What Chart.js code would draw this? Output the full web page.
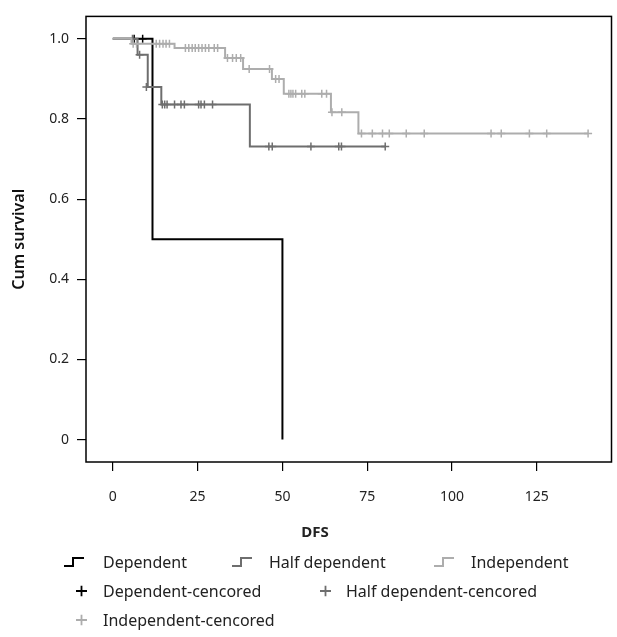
<!DOCTYPE html>
<html lang="en">
<head>
<meta charset="UTF-8">
<title>DFS survival</title>
<script src="https://cdn.jsdelivr.net/npm/chart.js"></script>
<style>
  body { margin: 0; background: #fff; }
  #wrap { position: relative; width: 617px; height: 637px; font-family: "Noto Sans", "Open Sans", sans-serif; color: #222; }
  #wrap canvas { position: absolute; left: 0; top: 0; }
  .lab { position: absolute; font-size: 16px; white-space: nowrap; transform: translateY(-50%); }
  .ico { position: absolute; transform: translateY(-50%); line-height: 0; }
  #dfs { position: absolute; left: 315px; top: 531px; transform: translate(-50%, -50%); font-weight: 700; font-size: 15px; }
</style>
</head>
<body>
<div id="wrap">
  <canvas id="km" width="617" height="637"></canvas>
  <div id="dfs">DFS</div>
  <div id="legend"></div>
</div>
<script>
// tick labels
const xTicks = [0, 25, 50, 75, 100, 125];
const yTicks = [0, 0.2, 0.4, 0.6, 0.8, 1.0];

// Dependent
const depTime = [0, 11.7, 50];
const depSurv = [1, 0.5, 0];
const depCensTime = [6.3, 8.8];
const depCensSurv = [1, 1];

// Half dependent
const halfTime = [0, 7.3, 10.3, 14.3, 40.4, 80.3];
const halfSurv = [1, 0.96, 0.88, 0.836, 0.7315, 0.7315];
const halfCensTime = [5.8, 7.9, 9.9, 14.6, 15.3, 16.0, 18.2, 20.1, 21.1, 25.3, 26.0, 27.0, 29.4,
                      46.0, 47.0, 58.4, 66.6, 67.4, 80.3];
const halfCensSurv = [1, 0.96, 0.88, 0.836, 0.836, 0.836, 0.836, 0.836, 0.836, 0.836, 0.836, 0.836, 0.836,
                      0.7315, 0.7315, 0.7315, 0.7315, 0.7315, 0.7315];

// Independent
const indTime = [0, 5.5, 18.2, 33.1, 38.4, 46.9, 50.4, 64.3, 72.4, 140.1];
const indSurv = [1, 0.988, 0.977, 0.952, 0.925, 0.90, 0.863, 0.817, 0.764, 0.764];
const indCensTime = [6.0, 7.0, 12.8, 13.8, 14.8, 15.7, 16.7,
                     21.4, 22.4, 23.4, 24.3, 25.3, 26.3, 27.3, 28.3, 29.9, 30.9,
                     33.8, 35.3, 36.4, 37.7,
                     40.2, 46.2,
                     48.0, 49.0,
                     51.9, 52.5, 53.1, 53.9, 55.7, 56.6, 61.6, 63.0,
                     64.6, 67.5,
                     73.3, 76.5, 79.5, 81.5, 86.5, 91.8, 111.5, 114.5, 122.8, 127.9, 140.1];
const indCensSurv = [0.988, 0.988, 0.988, 0.988, 0.988, 0.988, 0.988,
                     0.977, 0.977, 0.977, 0.977, 0.977, 0.977, 0.977, 0.977, 0.977, 0.977,
                     0.952, 0.952, 0.952, 0.952,
                     0.925, 0.925,
                     0.90, 0.90,
                     0.863, 0.863, 0.863, 0.863, 0.863, 0.863, 0.863, 0.863,
                     0.817, 0.817,
                     0.764, 0.764, 0.764, 0.764, 0.764, 0.764, 0.764, 0.764, 0.764, 0.764, 0.764];

const colDep = '#000000';
const colHalf = '#6e6e6e';
const colInd = '#adadad';

function pts(t, s) { return t.map((v, i) => ({ x: v, y: s[i] })); }

function stepSet(label, t, s, col) {
  return { type: 'line', label: label, data: pts(t, s), stepped: true, borderColor: col,
           borderWidth: 2, pointRadius: 0, fill: false };
}
function censSet(label, t, s, col) {
  return { type: 'scatter', label: label, data: pts(t, s), pointStyle: 'cross', pointRadius: 4,
           pointBorderWidth: 1.5, borderColor: col, backgroundColor: col };
}

const frame = {
  id: 'frame',
  afterDraw(chart) {
    const a = chart.chartArea, ctx = chart.ctx;
    ctx.save();
    ctx.strokeStyle = '#000';
    ctx.lineWidth = 1.5;
    ctx.strokeRect(a.left, a.top, a.right - a.left, a.bottom - a.top);
    ctx.restore();
  }
};

Chart.defaults.font.family = '"Noto Sans", "Open Sans", sans-serif';
Chart.defaults.color = '#222';

new Chart(document.getElementById('km'), {
  type: 'line',
  data: {
    datasets: [
      censSet('Independent-cencored', indCensTime, indCensSurv, colInd),
      stepSet('Independent', indTime, indSurv, colInd),
      censSet('Half dependent-cencored', halfCensTime, halfCensSurv, colHalf),
      stepSet('Half dependent', halfTime, halfSurv, colHalf),
      stepSet('Dependent', depTime, depSurv, colDep),
      censSet('Dependent-cencored', depCensTime, depCensSurv, colDep)
    ]
  },
  options: {
    responsive: false,
    animation: false,
    layout: { padding: { top: 9, right: 3, bottom: 135, left: 0 } },
    plugins: { legend: { display: false }, tooltip: { enabled: false } },
    scales: {
      x: {
        type: 'linear', min: -7.9, max: 147,
        afterBuildTicks(scale) { scale.ticks = xTicks.map(v => ({ value: v })); },
        afterFit(scale) { scale.height = 40; },
        ticks: { font: { size: 14 }, padding: 18, maxRotation: 0 },
        grid: { drawOnChartArea: false, drawTicks: true, tickLength: 9, color: '#000', lineWidth: 1.2 },
        border: { display: false }
      },
      y: {
        type: 'linear', min: -0.056, max: 1.056,
        afterBuildTicks(scale) { scale.ticks = yTicks.map(v => ({ value: v })); },
        afterFit(scale) { scale.width = 86; },
        ticks: { font: { size: 14 }, padding: 8, callback: v => v === 0 ? '0' : v.toFixed(1) },
        grid: { drawOnChartArea: false, drawTicks: true, tickLength: 9, color: '#000', lineWidth: 1.2 },
        border: { display: false },
        title: { display: true, text: 'Cum survival', font: { size: 16, weight: '600' }, color: '#111', padding: { top: 10 } }
      }
    }
  },
  plugins: [frame]
});

// legend (HTML symbols, drawn as small SVGs)
const legendItems = [
  { kind: 'step', col: colDep, text: 'Dependent', ix: 64, tx: 103, y: 562 },
  { kind: 'step', col: colHalf, text: 'Half dependent', ix: 232, tx: 269, y: 562 },
  { kind: 'step', col: colInd, text: 'Independent', ix: 434, tx: 471, y: 562 },
  { kind: 'plus', col: colDep, text: 'Dependent-cencored', ix: 76, tx: 103, y: 591 },
  { kind: 'plus', col: colHalf, text: 'Half dependent-cencored', ix: 320, tx: 346, y: 591 },
  { kind: 'plus', col: colInd, text: 'Independent-cencored', ix: 76, tx: 103, y: 620 }
];
const lg = document.getElementById('legend');
legendItems.forEach(it => {
  const svg = it.kind === 'step'
    ? `<svg width="20" height="10"><path d="M0 9 H9 V1 H20" fill="none" stroke="${it.col}" stroke-width="2"/></svg>`
    : `<svg width="11" height="11"><path d="M5.5 0 V11 M0 5.5 H11" fill="none" stroke="${it.col}" stroke-width="1.8"/></svg>`;
  const ico = document.createElement('div');
  ico.className = 'ico';
  ico.style.left = it.ix + 'px';
  ico.style.top = it.y + 'px';
  ico.innerHTML = svg;
  lg.appendChild(ico);
  const t = document.createElement('div');
  t.className = 'lab';
  t.style.left = it.tx + 'px';
  t.style.top = it.y + 'px';
  t.textContent = it.text;
  lg.appendChild(t);
});
</script>
</body>
</html>
